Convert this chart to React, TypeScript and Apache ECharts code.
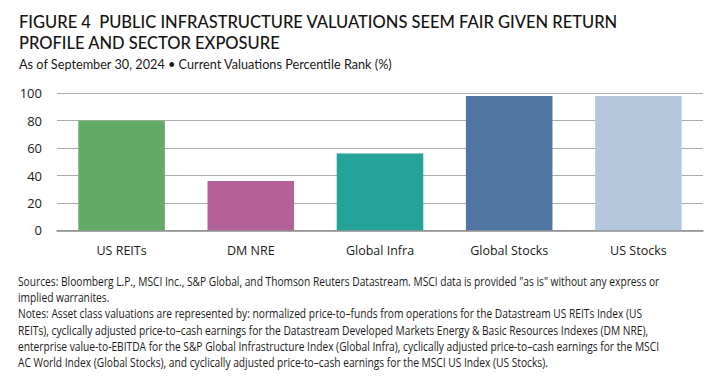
import React, { useEffect, useRef } from "react";
import * as echarts from "echarts";

const categories = ["US REITs", "DM NRE", "Global Infra", "Global Stocks", "US Stocks"];
const values = [80, 36, 56, 98, 98];
const barColors = ["#63AA66", "#B36198", "#26A398", "#5077A3", "#B5C7DD"];
const yTicks = [0, 20, 40, 60, 80, 100];

const titleLines = [
  "FIGURE 4  PUBLIC INFRASTRUCTURE VALUATIONS SEEM FAIR GIVEN RETURN",
  "PROFILE AND SECTOR EXPOSURE",
];
const subtitle = "As of September 30, 2024 \u2022 Current Valuations Percentile Rank (%)";
const noteLines = [
  'Sources: Bloomberg L.P., MSCI Inc., S&P Global, and Thomson Reuters Datastream. MSCI data is provided "as is" without any express or',
  "implied warranites.",
  "Notes: Asset class valuations are represented by: normalized price-to\u2013funds from operations for the Datastream US REITs Index (US",
  "REITs), cyclically adjusted price-to\u2013cash earnings for the Datastream Developed Markets Energy & Basic Resources Indexes (DM NRE),",
  "enterprise value-to-EBITDA for the S&P Global Infrastructure Index (Global Infra), cyclically adjusted price-to\u2013cash earnings for the MSCI",
  "AC World Index (Global Stocks), and cyclically adjusted price-to\u2013cash earnings for the MSCI US Index (US Stocks).",
];

export default function App() {
  const ref = useRef<HTMLDivElement>(null);
  useEffect(() => {
    if (!ref.current) return;
    const chart = echarts.init(ref.current, null, { renderer: "svg" });
    const graphics: any[] = [];
    titleLines.forEach((t, i) => {
      graphics.push({
        type: "text",
        left: 19,
        top: 13 + i * 21,
        style: {
          text: t,
          font: "500 16.5px Lato",
          fill: "#141414",
        },
      });
    });
    graphics.push({
      type: "text",
      left: 19,
      top: 57,
      style: { text: subtitle, font: "12.7px Lato", fill: "#1a1a1a" },
    });
    noteLines.forEach((t, i) => {
      graphics.push({
        type: "text",
        x: 18,
        y: 281 + i * 16.3,
        scaleX: 0.852,
        style: {
          text: t,
          font: "12px 'Open Sans'",
          fill: "#1a1a1a",
          verticalAlign: "middle",
        },
      });
    });
    chart.setOption({
      animation: false,
      grid: { left: 57, right: 18, top: 93.3, bottom: 389 - 230.3 },
      xAxis: {
        type: "category",
        data: categories,
        axisTick: { show: false },
        axisLine: { lineStyle: { color: "#8c8c8c", width: 1.5 } },
        axisLabel: {
          color: "#1a1a1a",
          fontFamily: "Open Sans",
          fontSize: 12.5,
          margin: 14,
        },
      },
      yAxis: {
        type: "value",
        min: 0,
        max: 100,
        interval: 20,
        axisLine: { show: false },
        axisTick: { show: false },
        splitLine: { lineStyle: { color: "#ababab", width: 1 } },
        axisLabel: {
          color: "#1a1a1a",
          fontFamily: "Open Sans",
          fontSize: 13,
          margin: 15,
          formatter: (v: number) => (yTicks.includes(v) ? String(v) : ""),
        },
      },
      series: [
        {
          type: "bar",
          data: values.map((v, i) => ({ value: v, itemStyle: { color: barColors[i] } })),
          barWidth: "67%",
        },
      ],
      graphic: graphics,
    });
    return () => chart.dispose();
  }, []);
  return <div ref={ref} style={{ width: 721, height: 389, margin: -8, background: "#fff" }} />;
}
